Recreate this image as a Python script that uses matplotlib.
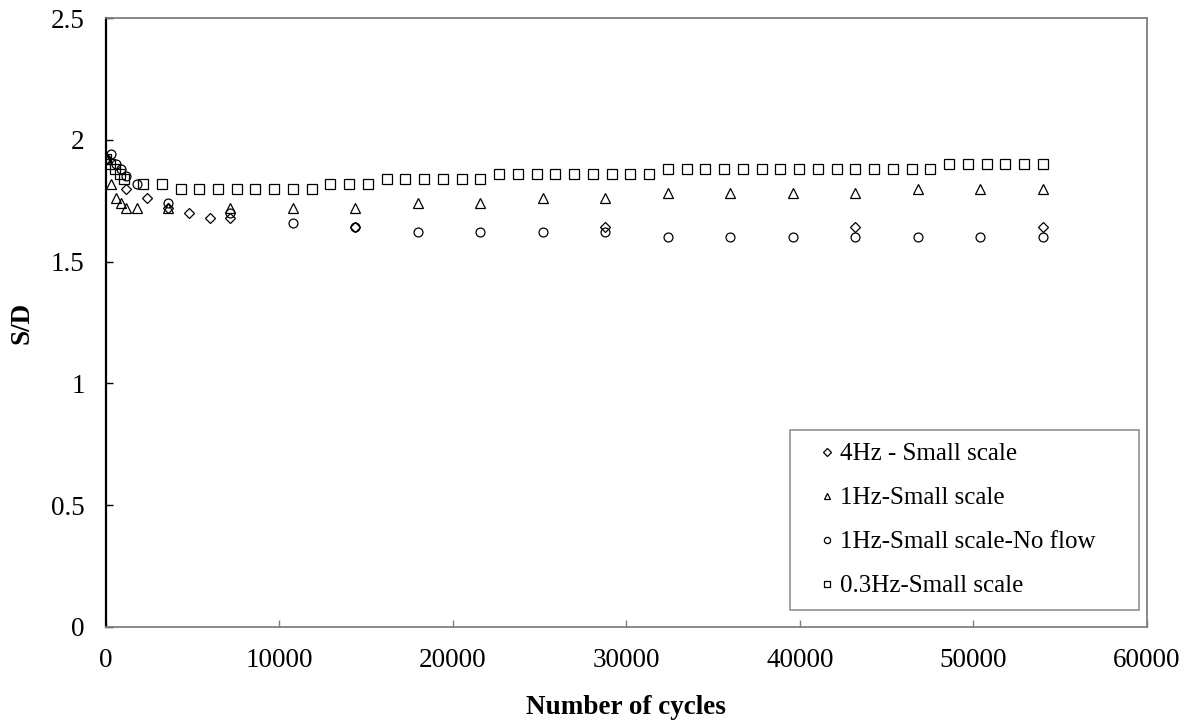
import matplotlib
matplotlib.use("Agg")
import matplotlib.pyplot as plt

# 4 Hz, small scale
cyc_4hz = [0, 1200, 2400, 3600, 4800, 6000, 7200, 14400, 28800, 43200, 54000]
sd_4hz = [1.92, 1.80, 1.76, 1.72, 1.70, 1.68, 1.68, 1.64, 1.64, 1.64, 1.64]

# 1 Hz, small scale
cyc_1hz = [0, 300, 600, 900, 1200, 1800, 3600, 7200, 10800, 14400, 18000,
           21600, 25200, 28800, 32400, 36000, 39600, 43200, 46800, 50400, 54000]
sd_1hz = [1.92, 1.82, 1.76, 1.74, 1.72, 1.72, 1.72, 1.72, 1.72, 1.72, 1.74,
          1.74, 1.76, 1.76, 1.78, 1.78, 1.78, 1.78, 1.80, 1.80, 1.80]

# 1 Hz, small scale, no flow
cyc_noflow = [0, 300, 600, 900, 1200, 1800, 3600, 7200, 10800, 14400, 18000,
              21600, 25200, 28800, 32400, 36000, 39600, 43200, 46800, 50400, 54000]
sd_noflow = [1.92, 1.94, 1.90, 1.88, 1.85, 1.82, 1.74, 1.70, 1.66, 1.64, 1.62,
             1.62, 1.62, 1.62, 1.60, 1.60, 1.60, 1.60, 1.60, 1.60, 1.60]

# 0.3 Hz, small scale
cyc_03hz = [0, 270, 540, 810, 1080, 2160, 3240, 4320, 5400, 6480, 7560, 8640,
            9720, 10800, 11880, 12960, 14040, 15120, 16200, 17280, 18360, 19440,
            20520, 21600, 22680, 23760, 24840, 25920, 27000, 28080, 29160, 30240,
            31320, 32400, 33480, 34560, 35640, 36720, 37800, 38880, 39960, 41040,
            42120, 43200, 44280, 45360, 46440, 47520, 48600, 49680, 50760, 51840,
            52920, 54000]
sd_03hz = [1.92, 1.90, 1.88, 1.86, 1.84, 1.82, 1.82, 1.80, 1.80, 1.80, 1.80, 1.80,
           1.80, 1.80, 1.80, 1.82, 1.82, 1.82, 1.84, 1.84, 1.84, 1.84,
           1.84, 1.84, 1.86, 1.86, 1.86, 1.86, 1.86, 1.86, 1.86, 1.86,
           1.86, 1.88, 1.88, 1.88, 1.88, 1.88, 1.88, 1.88, 1.88, 1.88,
           1.88, 1.88, 1.88, 1.88, 1.88, 1.88, 1.90, 1.90, 1.90, 1.90,
           1.90, 1.90]

plt.rcParams["font.family"] = ["Liberation Serif", "DejaVu Serif"]
plt.rcParams["font.size"] = 19.5

fig = plt.figure(figsize=(11.91, 7.23), dpi=100)
ax = fig.add_axes([0.0886, 0.1328, 0.8744, 0.8423])

mk = dict(linestyle="none", markerfacecolor="none", markeredgecolor="black",
          markeredgewidth=0.9)
ax.plot(cyc_4hz, sd_4hz, marker="D", markersize=5.4, label="4Hz - Small scale", **mk)
ax.plot(cyc_1hz, sd_1hz, marker="^", markersize=6.8, label="1Hz-Small scale", **mk)
ax.plot(cyc_noflow, sd_noflow, marker="o", markersize=6.4,
        label="1Hz-Small scale-No flow", **mk)
ax.plot(cyc_03hz, sd_03hz, marker="s", markersize=6.5, label="0.3Hz-Small scale", **mk)

ax.set_xlim(0, 60000)
ax.set_ylim(0, 2.5)
ax.set_xticks([0, 10000, 20000, 30000, 40000, 50000, 60000])
ax.set_yticks([0, 0.5, 1, 1.5, 2, 2.5])
ax.set_yticklabels(["0", "0.5", "1", "1.5", "2", "2.5"])

for side in ["top", "right", "bottom"]:
    ax.spines[side].set_color("#808080")
    ax.spines[side].set_linewidth(1.3)
ax.spines["left"].set_color("black")
ax.spines["left"].set_linewidth(1.6)

ax.tick_params(axis="x", direction="in", length=5, width=1, color="#808080", pad=15)
ax.tick_params(axis="y", direction="in", length=5, width=1, color="black", pad=15)

ax.set_xlabel("Number of cycles", fontweight="bold", labelpad=16)
ax.set_ylabel("S/D", fontweight="bold", labelpad=12)

# legend box spans the lower right corner; marker sits close to the text
leg = ax.legend(loc="lower left", bbox_to_anchor=(0.657, 0.028, 0.335, 0.3),
                mode="expand", frameon=True, fancybox=False, fontsize=18,
                markerscale=0.7, handlelength=2.0, handletextpad=-0.5,
                labelspacing=0.86, borderpad=0.5, borderaxespad=0)
leg.get_frame().set_edgecolor("#808080")
leg.get_frame().set_linewidth(1.3)

fig.savefig("out.png", dpi=100)
